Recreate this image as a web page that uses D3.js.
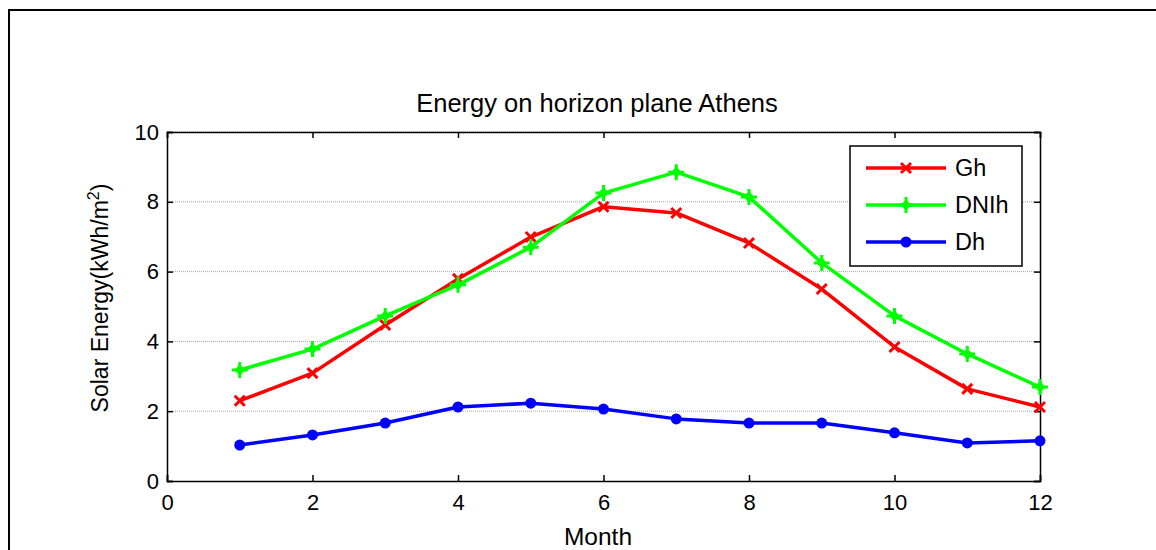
<!DOCTYPE html>
<html>
<head>
<meta charset="utf-8">
<script src="https://cdn.jsdelivr.net/npm/d3@7"></script>
<style>
  body { margin: 0; background: #fff; }
  text { font-family: "Liberation Sans", Arial, sans-serif; fill: #000; }
</style>
</head>
<body>
<div id="container"></div>
<script>
// data
const months = [1, 2, 3, 4, 5, 6, 7, 8, 9, 10, 11, 12];
const gh = [2.3, 3.09, 4.47, 5.79, 6.99, 7.86, 7.68, 6.82, 5.5, 3.84, 2.64, 2.12];
const dnih = [3.18, 3.78, 4.73, 5.62, 6.7, 8.25, 8.85, 8.14, 6.25, 4.73, 3.64, 2.69];
const dh = [1.03, 1.32, 1.66, 2.12, 2.23, 2.06, 1.78, 1.66, 1.66, 1.38, 1.09, 1.15];
const xTicks = [0, 2, 4, 6, 8, 10, 12];
const yTicks = [0, 2, 4, 6, 8, 10];
const seriesNames = ["Gh", "DNIh", "Dh"];

const WIDTH = 1156;
const HEIGHT = 550;
const PLOT_LEFT = 167, PLOT_RIGHT = 1040, PLOT_TOP = 132, PLOT_BOTTOM = 481;

const svg = d3.select("#container")
    .append("svg")
    .attr("width", WIDTH)
    .attr("height", HEIGHT);

// outer figure frame
svg.append("rect")
    .attr("x", 9).attr("y", 10)
    .attr("width", 1160).attr("height", 560)
    .attr("fill", "none")
    .attr("stroke", "#000")
    .attr("stroke-width", 2);

const x = d3.scaleLinear().domain([0, 12]).range([PLOT_LEFT, PLOT_RIGHT]);
const y = d3.scaleLinear().domain([0, 10]).range([PLOT_BOTTOM, PLOT_TOP]);

// grid
svg.append("g")
    .selectAll("line")
    .data(yTicks.filter(d => d > 0))
    .enter()
    .append("line")
    .attr("x1", PLOT_LEFT).attr("x2", PLOT_RIGHT)
    .attr("y1", d => y(d)).attr("y2", d => y(d))
    .attr("stroke", "#a8a8a8")
    .attr("stroke-width", 1)
    .attr("stroke-dasharray", "1,1");

// axes (MATLAB style, inward ticks)
const bottomAxis = d3.axisBottom(x).tickValues(xTicks).tickSize(-6).tickPadding(13);
const leftAxis = d3.axisLeft(y).tickValues(yTicks).tickSize(-6).tickPadding(8);
const topAxis = d3.axisTop(x).tickValues(xTicks).tickSize(-6).tickFormat("");
const rightAxis = d3.axisRight(y).tickValues(yTicks).tickSize(-6).tickFormat("");

const styleAxis = (g) => {
    g.select(".domain").attr("stroke", "#000").attr("stroke-width", 1.5);
    g.selectAll(".tick line").attr("stroke", "#000").attr("stroke-width", 1.5);
    g.selectAll(".tick text").style("font-size", "22px").attr("fill", "#000");
};

svg.append("g").attr("transform", "translate(0," + PLOT_BOTTOM + ")").call(bottomAxis).call(styleAxis);
svg.append("g").attr("transform", "translate(" + PLOT_LEFT + ",0)").call(leftAxis).call(styleAxis);
svg.append("g").attr("transform", "translate(0," + PLOT_TOP + ")").call(topAxis).call(styleAxis);
svg.append("g").attr("transform", "translate(" + PLOT_RIGHT + ",0)").call(rightAxis).call(styleAxis);

// titles
svg.append("text")
    .attr("x", 597).attr("y", 112)
    .attr("text-anchor", "middle")
    .style("font-size", "25.5px")
    .text("Energy on horizon plane Athens");

svg.append("text")
    .attr("x", 598).attr("y", 545)
    .attr("text-anchor", "middle")
    .style("font-size", "24.5px")
    .text("Month");

const yl = svg.append("text")
    .attr("transform", "translate(108," + 298 + ") rotate(-90)")
    .attr("text-anchor", "middle")
    .style("font-size", "23px");
yl.append("tspan").text("Solar Energy(kWh/m");
yl.append("tspan").attr("dy", -9).style("font-size", "16px").text("2");
yl.append("tspan").attr("dy", 9).text(")");

// markers
const drawMarker = (g, kind, color) => {
    if (kind === "x") {
        g.append("path").attr("d", "M-5,-5L5,5M-5,5L5,-5")
            .attr("stroke", color).attr("stroke-width", 3).attr("fill", "none");
    } else if (kind === "plus") {
        g.append("path").attr("d", "M-8,0L8,0M0,-8L0,8")
            .attr("stroke", color).attr("stroke-width", 3).attr("fill", "none");
        g.append("path").attr("d", "M0,-6L5,0L0,6L-5,0Z").attr("fill", color);
    } else {
        g.append("circle").attr("r", 5.5).attr("fill", color);
    }
};

const series = [
    { name: seriesNames[0], values: gh, color: "#ff0000", marker: "x" },
    { name: seriesNames[1], values: dnih, color: "#00ff00", marker: "plus" },
    { name: seriesNames[2], values: dh, color: "#0000ff", marker: "dot" }
];

const line = d3.line().x((d, i) => x(months[i])).y(d => y(d));

series.forEach(s => {
    svg.append("path")
        .datum(s.values)
        .attr("d", line)
        .attr("fill", "none")
        .attr("stroke", s.color)
        .attr("stroke-width", 3.5)
        .attr("stroke-linejoin", "round");
    s.values.forEach((v, i) => {
        const g = svg.append("g").attr("transform", "translate(" + x(months[i]) + "," + y(v) + ")");
        drawMarker(g, s.marker, s.color);
    });
});

// legend
const legend = svg.append("g").attr("transform", "translate(850,146)");
legend.append("rect")
    .attr("width", 172).attr("height", 120)
    .attr("fill", "#fff").attr("stroke", "#000").attr("stroke-width", 1.5);

series.forEach((s, i) => {
    const ly = 22 + i * 37;
    legend.append("line")
        .attr("x1", 16).attr("x2", 96).attr("y1", ly).attr("y2", ly)
        .attr("stroke", s.color).attr("stroke-width", 3.5);
    drawMarker(legend.append("g").attr("transform", "translate(56," + ly + ")"), s.marker, s.color);
    legend.append("text")
        .attr("x", 105).attr("y", ly + 8)
        .style("font-size", "23.5px")
        .text(s.name);
});
</script>
</body>
</html>
